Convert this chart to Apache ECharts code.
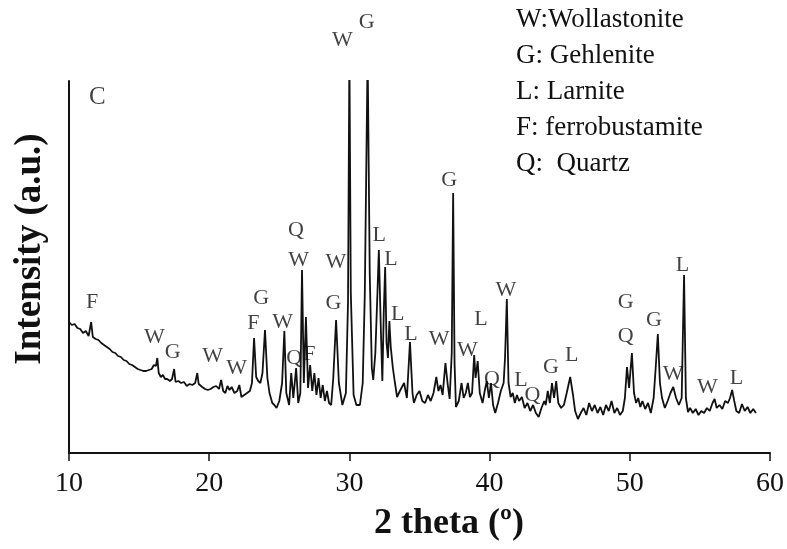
<!DOCTYPE html>
<html>
<head>
<meta charset="utf-8">
<script src="https://cdn.jsdelivr.net/npm/echarts@6/dist/echarts.min.js"></script>
<style>
  html, body { margin: 0; padding: 0; background: #fff; }
  #main { width: 787px; height: 549px; }
</style>
</head>
<body>
<div id="main"></div>
<script>
// XRD pattern, sample C (2 theta vs intensity, arbitrary units)
var twoTheta = [
  10.0, 10.2, 10.4, 10.6, 10.8, 11.0, 11.2, 11.4, 11.5, 11.58, 11.7, 11.9,
  12.1, 12.3, 12.5, 12.7, 12.9, 13.1, 13.3, 13.5, 13.7, 13.9, 14.1, 14.3,
  14.5, 14.7, 14.9, 15.1, 15.3, 15.5, 15.7, 15.9, 16.05, 16.2, 16.3, 16.4,
  16.55, 16.7, 16.85, 17.0, 17.2, 17.35, 17.5, 17.6, 17.8, 18.0, 18.2, 18.4,
  18.6, 18.8, 19.0, 19.15, 19.25, 19.5, 19.7, 19.9, 20.1, 20.3, 20.5, 20.7,
  20.85, 21.0, 21.15, 21.3, 21.45, 21.6, 21.8, 22.0, 22.15, 22.3, 22.5, 22.7,
  22.9, 23.05, 23.2, 23.35, 23.5, 23.65, 23.8, 23.98, 24.15, 24.3, 24.5, 24.65,
  24.8, 25.0, 25.2, 25.36, 25.5, 25.7, 25.85, 26.0, 26.2, 26.35, 26.5, 26.62,
  26.75, 26.9, 27.05, 27.2, 27.35, 27.5, 27.65, 27.8, 27.95, 28.1, 28.25, 28.4,
  28.55, 28.7, 28.85, 29.05, 29.25, 29.5, 29.75, 29.9, 30.0, 30.1, 30.3, 30.5,
  30.75, 30.95, 31.1, 31.3, 31.45, 31.6, 31.7, 31.85, 32.0, 32.1, 32.25, 32.35,
  32.45, 32.55, 32.65, 32.75, 32.85, 32.95, 33.1, 33.25, 33.4, 33.6, 33.9, 34.1,
  34.32, 34.5, 34.6, 34.8, 35.0, 35.2, 35.4, 35.6, 35.8, 36.0, 36.2, 36.35,
  36.5, 36.65, 36.85, 37.0, 37.15, 37.3, 37.4, 37.5, 37.6, 37.8, 38.0, 38.15,
  38.3, 38.45, 38.6, 38.75, 38.9, 39.0, 39.15, 39.3, 39.5, 39.65, 39.8, 39.95,
  40.1, 40.25, 40.4, 40.6, 40.8, 41.0, 41.1, 41.23, 41.35, 41.5, 41.65, 41.8,
  41.95, 42.1, 42.3, 42.5, 42.7, 42.9, 43.1, 43.3, 43.5, 43.7, 43.9, 44.0,
  44.15, 44.3, 44.45, 44.6, 44.75, 44.9, 45.1, 45.3, 45.5, 45.75, 45.95, 46.1,
  46.3, 46.5, 46.7, 46.9, 47.1, 47.3, 47.5, 47.7, 47.9, 48.1, 48.3, 48.5,
  48.7, 48.9, 49.1, 49.3, 49.5, 49.65, 49.8, 49.95, 50.15, 50.3, 50.45, 50.6,
  50.75, 50.9, 51.1, 51.3, 51.5, 51.7, 51.85, 52.0, 52.15, 52.3, 52.5, 52.7,
  52.9, 53.1, 53.3, 53.5, 53.7, 53.87, 54.0, 54.15, 54.3, 54.5, 54.7, 54.9,
  55.1, 55.3, 55.5, 55.7, 55.9, 56.05, 56.2, 56.4, 56.6, 56.8, 57.0, 57.15,
  57.3, 57.45, 57.6, 57.8, 58.0, 58.2, 58.4, 58.6, 58.8, 59.0
];
var intensity = [
  131, 128, 129, 125, 124, 120, 122, 117, 119, 131, 116, 114,
  113, 110, 108, 106, 104, 101, 100, 97, 96, 93, 92, 89,
  88, 86, 84, 83, 82, 82, 83, 84, 88, 87, 95, 80,
  76, 78, 74, 74, 72, 74, 84, 71, 72, 70, 71, 67,
  69, 68, 70, 80, 69, 66, 64, 63, 64, 66, 67, 64,
  73, 62, 60, 67, 63, 66, 60, 62, 68, 56, 58, 60,
  62, 70, 115, 76, 72, 70, 80, 123, 75, 60, 50, 48,
  45, 52, 70, 122, 60, 48, 80, 55, 85, 50, 60, 183,
  70, 136, 65, 88, 62, 80, 58, 75, 55, 68, 52, 62,
  50, 48, 75, 133, 70, 48, 60, 150, 400, 160, 58, 48,
  48, 70, 160, 400, 180, 85, 73, 100, 160, 203, 120, 72,
  140, 186, 110, 95, 132, 106, 85, 70, 56, 62, 70, 55,
  111, 60, 50, 58, 62, 52, 50, 58, 52, 60, 76, 62,
  68, 58, 90, 70, 54, 100, 260, 90, 46, 52, 70, 55,
  60, 70, 56, 60, 98, 75, 92, 60, 50, 62, 72, 55,
  70, 48, 40, 50, 62, 70, 95, 154, 70, 56, 60, 50,
  58, 52, 56, 45, 50, 42, 48, 40, 36, 45, 52, 48,
  62, 50, 70, 55, 72, 50, 45, 48, 60, 76, 58, 42,
  34, 40, 45, 38, 50, 42, 48, 40, 46, 38, 48, 42,
  52, 40, 45, 38, 42, 55, 86, 65, 100, 60, 50, 55,
  46, 52, 44, 50, 40, 55, 86, 119, 70, 55, 45, 52,
  60, 66, 55, 48, 55, 178, 55, 41, 45, 40, 44, 38,
  42, 40, 45, 42, 50, 54, 45, 48, 44, 52, 50, 55,
  63, 52, 42, 40, 49, 42, 46, 40, 44, 40
];

// phase annotations: [2 theta, height, letter]
var peakLabels = [
  [11.65, 151, 'F'], [16.09, 116, 'W'], [17.4, 101, 'G'], [20.25, 97, 'W'],
  [21.96, 85, 'W'], [23.15, 130, 'F'], [23.7, 155, 'G'], [25.24, 131, 'W'],
  [26.07, 95, 'Q'], [27.14, 99, 'F'], [28.87, 150, 'G'], [26.19, 223, 'Q'],
  [26.38, 193, 'W'], [29.04, 191, 'W'], [29.5, 413, 'W'], [31.24, 431, 'G'],
  [32.13, 218, 'L'], [32.96, 194, 'L'], [33.44, 139, 'L'], [34.39, 119, 'L'],
  [36.4, 114, 'W'], [37.12, 273, 'G'], [38.42, 103, 'W'], [39.38, 134, 'L'],
  [40.16, 74, 'Q'], [41.16, 163, 'W'], [42.23, 73, 'L'], [43.06, 58, 'Q'],
  [44.37, 86, 'G'], [45.86, 98, 'L'], [49.71, 151, 'G'], [49.71, 117, 'Q'],
  [51.73, 133, 'G'], [53.09, 79, 'W'], [53.75, 188, 'L'], [55.53, 66, 'W'],
  [57.6, 75, 'L']
];
var panelLabel = [12.03, 356, 'C'];

var legendLines = [
  'W:Wollastonite',
  'G: Gehlenite',
  'L: Larnite',
  'F: ferrobustamite',
  'Q:  Quartz'
];

var xTicks = [10, 20, 30, 40, 50, 60];

var serif = '"Liberation Serif", "Times New Roman", serif';
var ink = '#111';

var myChart = echarts.init(document.getElementById('main'));

var lineData = twoTheta.map(function (t, i) { return [t, intensity[i]]; });
var labelData = peakLabels.map(function (p) {
  return { value: [p[0], p[1]], name: p[2] };
});
labelData.push({
  value: [panelLabel[0], panelLabel[1]],
  name: panelLabel[2],
  label: { fontSize: 25 }
});

var option = {
  animation: false,
  backgroundColor: '#fff',
  grid: { left: 69, right: 16, top: 81, bottom: 96 },
  xAxis: {
    type: 'value',
    min: xTicks[0],
    max: xTicks[xTicks.length - 1],
    interval: 10,
    axisLine: { lineStyle: { color: ink, width: 2 } },
    axisTick: { show: true, length: 8, lineStyle: { color: ink, width: 1.5 } },
    axisLabel: { color: ink, fontSize: 28, fontFamily: serif, margin: 17 },
    splitLine: { show: false }
  },
  yAxis: {
    type: 'value',
    min: 0,
    max: 372,
    axisLine: { show: true, lineStyle: { color: ink, width: 2 } },
    axisTick: { show: false },
    axisLabel: { show: false },
    splitLine: { show: false }
  },
  graphic: [
    {
      type: 'text',
      left: 516,
      top: 2,
      style: {
        text: legendLines.join('\n'),
        font: '27px ' + serif,
        lineHeight: 36,
        fill: ink
      }
    },
    {
      type: 'text',
      x: 449,
      y: 524,
      style: {
        text: '2 theta (º)',
        font: 'bold 36px ' + serif,
        fill: ink,
        align: 'center',
        verticalAlign: 'middle'
      }
    },
    {
      type: 'text',
      x: 30,
      y: 249,
      rotation: Math.PI / 2,
      style: {
        text: 'Intensity (a.u.)',
        font: 'bold 37px ' + serif,
        fill: ink,
        align: 'center',
        verticalAlign: 'middle'
      }
    }
  ],
  series: [
    {
      name: 'XRD',
      type: 'line',
      data: lineData,
      showSymbol: false,
      clip: true,
      lineStyle: { color: ink, width: 1.8 }
    },
    {
      name: 'phases',
      type: 'scatter',
      data: labelData,
      symbolSize: 0,
      clip: false,
      silent: true,
      label: {
        show: true,
        position: 'inside',
        formatter: '{b}',
        color: ink,
        fontSize: 22,
        fontFamily: serif
      }
    }
  ]
};

myChart.setOption(option);
</script>
</body>
</html>
